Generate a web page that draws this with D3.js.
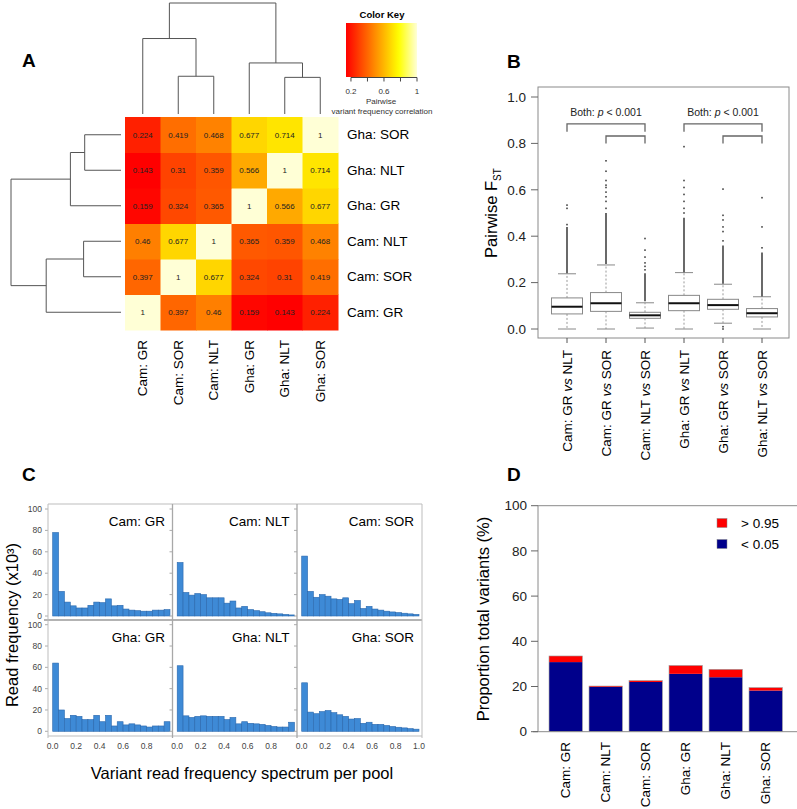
<!DOCTYPE html>
<html><head><meta charset="utf-8">
<script src="https://cdn.jsdelivr.net/npm/d3@7"></script>
<style>
body{margin:0;background:#fff}
svg{display:block;font-family:"Liberation Sans",Arial,Helvetica,sans-serif}
</style>
</head><body>
<svg id="c" width="797" height="809"></svg>
<script>
// ---------------- DATA ----------------
// Panel A: pairwise correlation heatmap
const samples = ["Cam: GR","Cam: SOR","Cam: NLT","Gha: GR","Gha: NLT","Gha: SOR"];
const corrCamGR  = [1, 0.397, 0.46, 0.159, 0.143, 0.224];
const corrCamSOR = [0.397, 1, 0.677, 0.324, 0.31, 0.419];
const corrCamNLT = [0.46, 0.677, 1, 0.365, 0.359, 0.468];
const corrGhaGR  = [0.159, 0.324, 0.365, 1, 0.566, 0.677];
const corrGhaNLT = [0.143, 0.31, 0.359, 0.566, 1, 0.714];
const corrGhaSOR = [0.224, 0.419, 0.468, 0.677, 0.714, 1];
const corrRows = [corrCamGR, corrCamSOR, corrCamNLT, corrGhaGR, corrGhaNLT, corrGhaSOR];
const colorKeyTicks = [0.2, 0.4, 0.6, 0.8, 1];
const colorKeyLabels = [0.2, 0.6, 1];
// dendrogram (merge heights, relative)
const dendro = {h:1.0, children:[
  {h:0.68, children:[{name:"Cam: GR"},{h:0.34, children:[{name:"Cam: SOR"},{name:"Cam: NLT"}]}]},
  {h:0.46, children:[{name:"Gha: GR"},{h:0.33, children:[{name:"Gha: NLT"},{name:"Gha: SOR"}]}]}
]};

// Panel B: pairwise FST boxplots
const fstGroups = [["Cam: GR ","vs"," NLT"],["Cam: GR ","vs"," SOR"],["Cam: NLT ","vs"," SOR"],
                   ["Gha: GR ","vs"," NLT"],["Gha: GR ","vs"," SOR"],["Gha: NLT ","vs"," SOR"]];
const fstWhiskerLo = [0, 0, 0.004, 0, 0.025, 0];
const fstQ1        = [0.065, 0.076, 0.046, 0.079, 0.085, 0.052];
const fstMedian    = [0.096, 0.111, 0.059, 0.111, 0.103, 0.068];
const fstQ3        = [0.134, 0.157, 0.072, 0.145, 0.128, 0.088];
const fstWhiskerHi = [0.238, 0.276, 0.113, 0.243, 0.193, 0.139];
const fstOutlierDense = [[0.24,0.44],[0.28,0.5],[0.12,0.24],[0.245,0.48],[0.195,0.36],[0.14,0.33]];
const fstOutlierSparse = [
  [0.45,0.52,0.534],
  [0.52,0.55,0.57,0.59,0.61,0.62,0.64,0.68,0.725],
  [0.255,0.27,0.285,0.31,0.34,0.39],
  [0.5,0.52,0.55,0.58,0.61,0.64,0.786],
  [0.0,0.01,0.38,0.42,0.44,0.47,0.49,0.603],
  [0.35,0.44,0.566]
];
const fstTicks = [0, 0.2, 0.4, 0.6, 0.8, 1.0];
const sigText = "Both: ";

// Panel C: variant read frequency spectra (20 bins of width 0.05, x10^3)
const histTitles = ["Cam: GR","Cam: NLT","Cam: SOR","Gha: GR","Gha: NLT","Gha: SOR"];
const histCamGR  = [78,23,13,9.5,7.5,7.5,10,13,12.5,16,9.5,10,6.5,5.5,5,4.5,4.5,5.5,5.5,6];
const histCamNLT = [50,22,19.5,21,20,17,17,17,12,14,7.5,9,6,5,4,3,2.5,2,1.5,1];
const histCamSOR = [56,23,17.5,20,18.5,16,15.5,17,11.5,14.5,7,9,6.5,5.5,4.5,3.8,3.2,2.6,2,1.5];
const histGhaGR  = [64,20,12,15,14,11,11,15,9,15,5,9,6,7,6,5,4,5,5,9];
const histGhaNLT = [61.5,14.5,13,14,14.5,14,14,14,11,13,7,9,7.5,7,6.5,5.5,4.5,4,4,8.5];
const histGhaSOR = [45.5,18,16.5,18.5,19.5,17.5,15.5,14,11.5,12,7.5,8.5,6.5,6.5,5.5,4.5,3.8,3.2,2.5,2];
const histData = [histCamGR, histCamNLT, histCamSOR, histGhaGR, histGhaNLT, histGhaSOR];
const histYTicks = [0,20,40,60,80,100];
const histXTicks = [0,0.2,0.4,0.6,0.8];

// Panel D: proportion of total variants
const propCats = ["Cam: GR","Cam: NLT","Cam: SOR","Gha: GR","Gha: NLT","Gha: SOR"];
const propLow  = [30.8, 19.8, 22.0, 25.6, 24.1, 18.2];   // < 0.05
const propHigh = [2.7, 0.4, 0.6, 3.7, 3.5, 1.3];         // > 0.95
const propTicks = [0,20,40,60,80,100];
const legendItems = [{label:"> 0.95", color:"#ff0000"},{label:"< 0.05", color:"#00008b"}];

// ---------------- DRAW ----------------
const svg = d3.select("#c");
const gray = "#7a7a7a";

function panelLabel(t,x,y){
  svg.append("text").attr("x",x).attr("y",y).attr("font-size",19).attr("font-weight","bold").text(t);
}
panelLabel("A",22,67); panelLabel("B",507,68); panelLabel("C",22,481); panelLabel("D",507,481);

// ===== Panel A =====
const A = svg.append("g");
const cx = d3.scaleBand().domain(samples).range([125,338]);
const cy = d3.scaleBand().domain(samples.slice().reverse()).range([117,330]);
const heat = d3.scaleLinear().domain([0.143,0.78,1]).range(["#ff0000","#ffff00","#ffffd6"])
  .interpolate(d3.interpolateHsl).clamp(true);

samples.forEach((rs,ri)=>{
  samples.forEach((cs,ci)=>{
    const v = corrRows[ri][ci];
    A.append("rect").attr("x",cx(cs)).attr("y",cy(rs)).attr("width",cx.bandwidth()+0.5).attr("height",cy.bandwidth()+0.5)
      .attr("fill",heat(v));
    A.append("text").attr("x",cx(cs)+cx.bandwidth()/2).attr("y",cy(rs)+cy.bandwidth()/2).attr("dy","0.35em")
      .attr("text-anchor","middle").attr("font-size",8).attr("fill","#222").text(v);
  });
});
// row labels
samples.forEach(s=>{
  A.append("text").attr("x",347).attr("y",cy(s)+cy.bandwidth()/2).attr("dy","0.35em").attr("font-size",13.5).text(s);
  A.append("text").attr("transform",`translate(${cx(s)+cx.bandwidth()/2},340) rotate(-90)`).attr("dy","0.35em")
    .attr("text-anchor","end").attr("font-size",13.5).text(s);
});
// dendrograms
function drawDendro(g, node, pos, hs, vertical){
  if(!node.children) return {p:pos(node.name), h:0};
  const ch = node.children.map(c=>drawDendro(g,c,pos,hs,vertical));
  const hv = hs(node.h);
  const p1 = ch[0].p, p2 = ch[1].p;
  if(vertical){
    g.append("line").attr("x1",p1).attr("x2",p2).attr("y1",hv).attr("y2",hv);
    ch.forEach(c=>g.append("line").attr("x1",c.p).attr("x2",c.p).attr("y1",hv).attr("y2",hs(c.h)));
  } else {
    g.append("line").attr("y1",p1).attr("y2",p2).attr("x1",hv).attr("x2",hv);
    ch.forEach(c=>g.append("line").attr("y1",c.p).attr("y2",c.p).attr("x1",hv).attr("x2",hs(c.h)));
  }
  return {p:(p1+p2)/2, h:node.h};
}
const dg1 = A.append("g").attr("stroke","#555").attr("stroke-width",1);
drawDendro(dg1, dendro, s=>cx(s)+cx.bandwidth()/2, d3.scaleLinear().domain([0,1]).range([114,3]), true);
const dg2 = A.append("g").attr("stroke","#555").attr("stroke-width",1);
drawDendro(dg2, dendro, s=>cy(s)+cy.bandwidth()/2, d3.scaleLinear().domain([0,1]).range([121,11]), false);

// color key
const keyX = d3.scaleLinear().domain([0.14,1]).range([346,417]);
const defs = svg.append("defs");
const grad = defs.append("linearGradient").attr("id","kg");
d3.range(0,1.0001,0.05).forEach(o=>{
  grad.append("stop").attr("offset",o).attr("stop-color",heat(0.14+o*0.86));
});
A.append("rect").attr("x",346).attr("y",23).attr("width",71).attr("height",54).attr("fill","url(#kg)");
A.append("line").attr("x1",keyX(0.2)).attr("x2",keyX(1)).attr("y1",77.5).attr("y2",77.5).attr("stroke","#444");
colorKeyTicks.forEach(t=>{
  A.append("line").attr("x1",keyX(t)).attr("x2",keyX(t)).attr("y1",77.5).attr("y2",81.5).attr("stroke","#444");
});
colorKeyLabels.forEach(t=>{
  A.append("text").attr("x",keyX(t)).attr("y",94).attr("text-anchor","middle").attr("font-size",8).attr("fill","#333").text(t);
});
A.append("text").attr("x",382).attr("y",18).attr("text-anchor","middle").attr("font-size",9.5).attr("font-weight","bold").text("Color Key");
A.append("text").attr("x",381).attr("y",104).attr("text-anchor","middle").attr("font-size",8).attr("fill","#333").text("Pairwise");
A.append("text").attr("x",382).attr("y",114).attr("text-anchor","middle").attr("font-size",8).attr("fill","#333").text("variant frequency correlation");

// ===== Panel B =====
const B = svg.append("g");
const by = d3.scaleLinear().domain([0,1]).range([329,97]);
const bx = d3.scalePoint().domain(d3.range(6)).range([567,762]);
B.append("rect").attr("x",538).attr("y",87).attr("width",251).attr("height",251).attr("fill","none").attr("stroke","#8a8a8a");
fstTicks.forEach(t=>{
  B.append("line").attr("x1",531).attr("x2",538).attr("y1",by(t)).attr("y2",by(t)).attr("stroke","#666");
  B.append("text").attr("x",526).attr("y",by(t)).attr("dy","0.35em").attr("text-anchor","end").attr("font-size",13.5).attr("fill","#222").text(t.toFixed(1));
});
const yl = B.append("text").attr("transform","translate(497,213) rotate(-90)").attr("text-anchor","middle").attr("font-size",16.5);
yl.append("tspan").text("Pairwise F");
yl.append("tspan").attr("font-size",10).attr("dy",4).text("ST");
const bw = 31;
fstGroups.forEach((lab,i)=>{
  const x = bx(i);
  // whiskers
  B.append("line").attr("x1",x).attr("x2",x).attr("y1",by(fstQ3[i])).attr("y2",by(fstWhiskerHi[i]))
    .attr("stroke","#999").attr("stroke-dasharray","2,2");
  B.append("line").attr("x1",x).attr("x2",x).attr("y1",by(fstQ1[i])).attr("y2",by(fstWhiskerLo[i]))
    .attr("stroke","#999").attr("stroke-dasharray","2,2");
  [fstWhiskerHi[i], fstWhiskerLo[i]].forEach(v=>{
    B.append("line").attr("x1",x-9).attr("x2",x+9).attr("y1",by(v)).attr("y2",by(v)).attr("stroke","#888");
  });
  // outliers
  B.append("line").attr("x1",x).attr("x2",x).attr("y1",by(fstOutlierDense[i][0])).attr("y2",by(fstOutlierDense[i][1]))
    .attr("stroke","#444").attr("stroke-width",1.6);
  fstOutlierSparse[i].forEach(v=>{
    B.append("rect").attr("x",x-0.8).attr("y",by(v)-0.8).attr("width",1.6).attr("height",1.6).attr("fill","#444");
  });
  // box
  B.append("rect").attr("x",x-bw/2).attr("y",by(fstQ3[i])).attr("width",bw).attr("height",by(fstQ1[i])-by(fstQ3[i]))
    .attr("fill","#fff").attr("stroke","#888");
  B.append("line").attr("x1",x-bw/2).attr("x2",x+bw/2).attr("y1",by(fstMedian[i])).attr("y2",by(fstMedian[i]))
    .attr("stroke","#111").attr("stroke-width",2);
  // x tick + label
  B.append("line").attr("x1",x).attr("x2",x).attr("y1",338).attr("y2",343).attr("stroke","#555");
  const t = B.append("text").attr("transform",`translate(${x},350) rotate(-90)`).attr("dy","0.35em")
    .attr("text-anchor","end").attr("font-size",13.5);
  t.append("tspan").text(lab[0]);
  t.append("tspan").attr("font-style","italic").text(lab[1]);
  t.append("tspan").text(lab[2]);
});
// significance brackets
function bracket(i1,i2,top,leg){
  const y1 = by(top), y2 = by(leg);
  B.append("path").attr("d",`M${bx(i1)},${y2}V${y1}H${bx(i2)}V${y2}`).attr("fill","none").attr("stroke","#666").attr("stroke-width",1.3);
}
bracket(0,2,0.884,0.85); bracket(1,2,0.832,0.80);
bracket(3,5,0.884,0.85); bracket(4,5,0.832,0.80);
[[0,2],[3,5]].forEach(([a,b])=>{
  const t = B.append("text").attr("x",(bx(a)+bx(b))/2).attr("y",by(0.92)).attr("text-anchor","middle").attr("font-size",10.5).attr("fill","#222");
  t.append("tspan").text(sigText);
  t.append("tspan").attr("font-style","italic").text("p");
  t.append("tspan").text(" < 0.001");
});

// ===== Panel C =====
const C = svg.append("g");
const barFill = "#3e8ad6", barStroke = "#2a68ad";
const panelLeft = [48,172.5,297], panelW = 125;
const rowY0 = [616, 731.3], rowY100 = [509, 624.7];
const rowTop = [504, 620], rowBot = [620, 736];
histData.forEach((vals,k)=>{
  const col = k%3, row = Math.floor(k/3);
  const x0 = panelLeft[col];
  const x = d3.scaleLinear().domain([0,1]).range([x0+4.7, x0+4.7+117.3]);
  const y = d3.scaleLinear().domain([0,100]).range([rowY0[row], rowY100[row]]);
  vals.forEach((v,i)=>{
    C.append("rect").attr("x",x(i*0.05)).attr("y",y(v)).attr("width",x(0.05)-x(0)).attr("height",y(0)-y(v))
      .attr("fill",barFill).attr("stroke",barStroke).attr("stroke-width",0.6);
  });
  // ticks on panel left
  histYTicks.forEach(t=>{
    C.append("line").attr("x1",x0-3).attr("x2",x0).attr("y1",y(t)).attr("y2",y(t)).attr("stroke","#aaa");
  });
  if(col===0){
    histYTicks.forEach(t=>{
      C.append("text").attr("x",x0-6).attr("y",y(t)).attr("dy","0.35em").attr("text-anchor","end").attr("font-size",8.5).attr("fill","#444").text(t);
    });
  }
  if(row===1){
    const xt = col===2 ? histXTicks.concat([1.0]) : histXTicks;
    xt.forEach(t=>{
      C.append("text").attr("x",x(t)).attr("y",749).attr("text-anchor","middle").attr("font-size",8.5).attr("fill","#444").text(t.toFixed(1));
    });
  }
  C.append("text").attr("x",x0+117).attr("y",rowTop[row]+22).attr("text-anchor","end").attr("font-size",13.5).text(histTitles[k]);
});
// panel borders
const bc = "#bdbdbd";
C.append("line").attr("x1",48).attr("x2",422).attr("y1",504).attr("y2",504).attr("stroke",bc);
C.append("line").attr("x1",44).attr("x2",422).attr("y1",620).attr("y2",620).attr("stroke","#9a9a9a").attr("stroke-width",1.3);
C.append("line").attr("x1",48).attr("x2",422).attr("y1",736).attr("y2",736).attr("stroke",bc);
[48,172.5,297,422].forEach((xx,i)=>{
  C.append("line").attr("x1",xx).attr("x2",xx).attr("y1",504).attr("y2",738).attr("stroke", i===0||i===3? bc : "#a8a8a8").attr("stroke-width", i===1||i===2?1.3:1);
});
C.append("text").attr("transform","translate(18,625) rotate(-90)").attr("text-anchor","middle").attr("font-size",16.5).text("Read frequency (x10³)");
C.append("text").attr("x",242).attr("y",779).attr("text-anchor","middle").attr("font-size",16.5).text("Variant read frequency spectrum per pool");

// ===== Panel D =====
const D = svg.append("g");
const dy = d3.scaleLinear().domain([0,100]).range([731.7,505.7]);
const dx = d3.scaleBand().domain(propCats).range([545.7,785.7]).paddingInner(0.1667).paddingOuter(0.0833);
D.append("line").attr("x1",538).attr("x2",797).attr("y1",505.7).attr("y2",505.7).attr("stroke","#8a8a8a");
D.append("line").attr("x1",538).attr("x2",538).attr("y1",505.7).attr("y2",731.7).attr("stroke","#8a8a8a");
propCats.forEach((c,i)=>{
  D.append("rect").attr("x",dx(c)).attr("y",dy(propLow[i])).attr("width",dx.bandwidth()).attr("height",dy(0)-dy(propLow[i]))
    .attr("fill","#00008b");
  D.append("rect").attr("x",dx(c)).attr("y",dy(propLow[i]+propHigh[i])).attr("width",dx.bandwidth()).attr("height",dy(propLow[i])-dy(propLow[i]+propHigh[i]))
    .attr("fill","#ff0000");
  D.append("rect").attr("x",dx(c)).attr("y",dy(propLow[i]+propHigh[i])).attr("width",dx.bandwidth()).attr("height",dy(0)-dy(propLow[i]+propHigh[i]))
    .attr("fill","none").attr("stroke","#9a9a9a").attr("stroke-width",0.6);
  D.append("text").attr("transform",`translate(${dx(c)+dx.bandwidth()/2},742) rotate(-90)`).attr("dy","0.35em")
    .attr("text-anchor","end").attr("font-size",13.5).text(c);
});
D.append("line").attr("x1",533).attr("x2",797).attr("y1",731.7).attr("y2",731.7).attr("stroke","#8a8a8a");
propTicks.forEach(t=>{
  D.append("line").attr("x1",531).attr("x2",538).attr("y1",dy(t)).attr("y2",dy(t)).attr("stroke","#666");
  D.append("text").attr("x",527).attr("y",dy(t)).attr("dy","0.35em").attr("text-anchor","end").attr("font-size",13.5).attr("fill","#222").text(t);
});
D.append("text").attr("transform","translate(489,619) rotate(-90)").attr("text-anchor","middle").attr("font-size",16.5).text("Proportion total variants (%)");
legendItems.forEach((it,i)=>{
  const yy = 523 + i*21;
  D.append("rect").attr("x",717).attr("y",yy-4.5).attr("width",10).attr("height",9).attr("fill",it.color).attr("stroke","#888").attr("stroke-width",0.5);
  D.append("text").attr("x",741).attr("y",yy).attr("dy","0.35em").attr("font-size",13.5).text(it.label);
});
</script>
</body></html>
